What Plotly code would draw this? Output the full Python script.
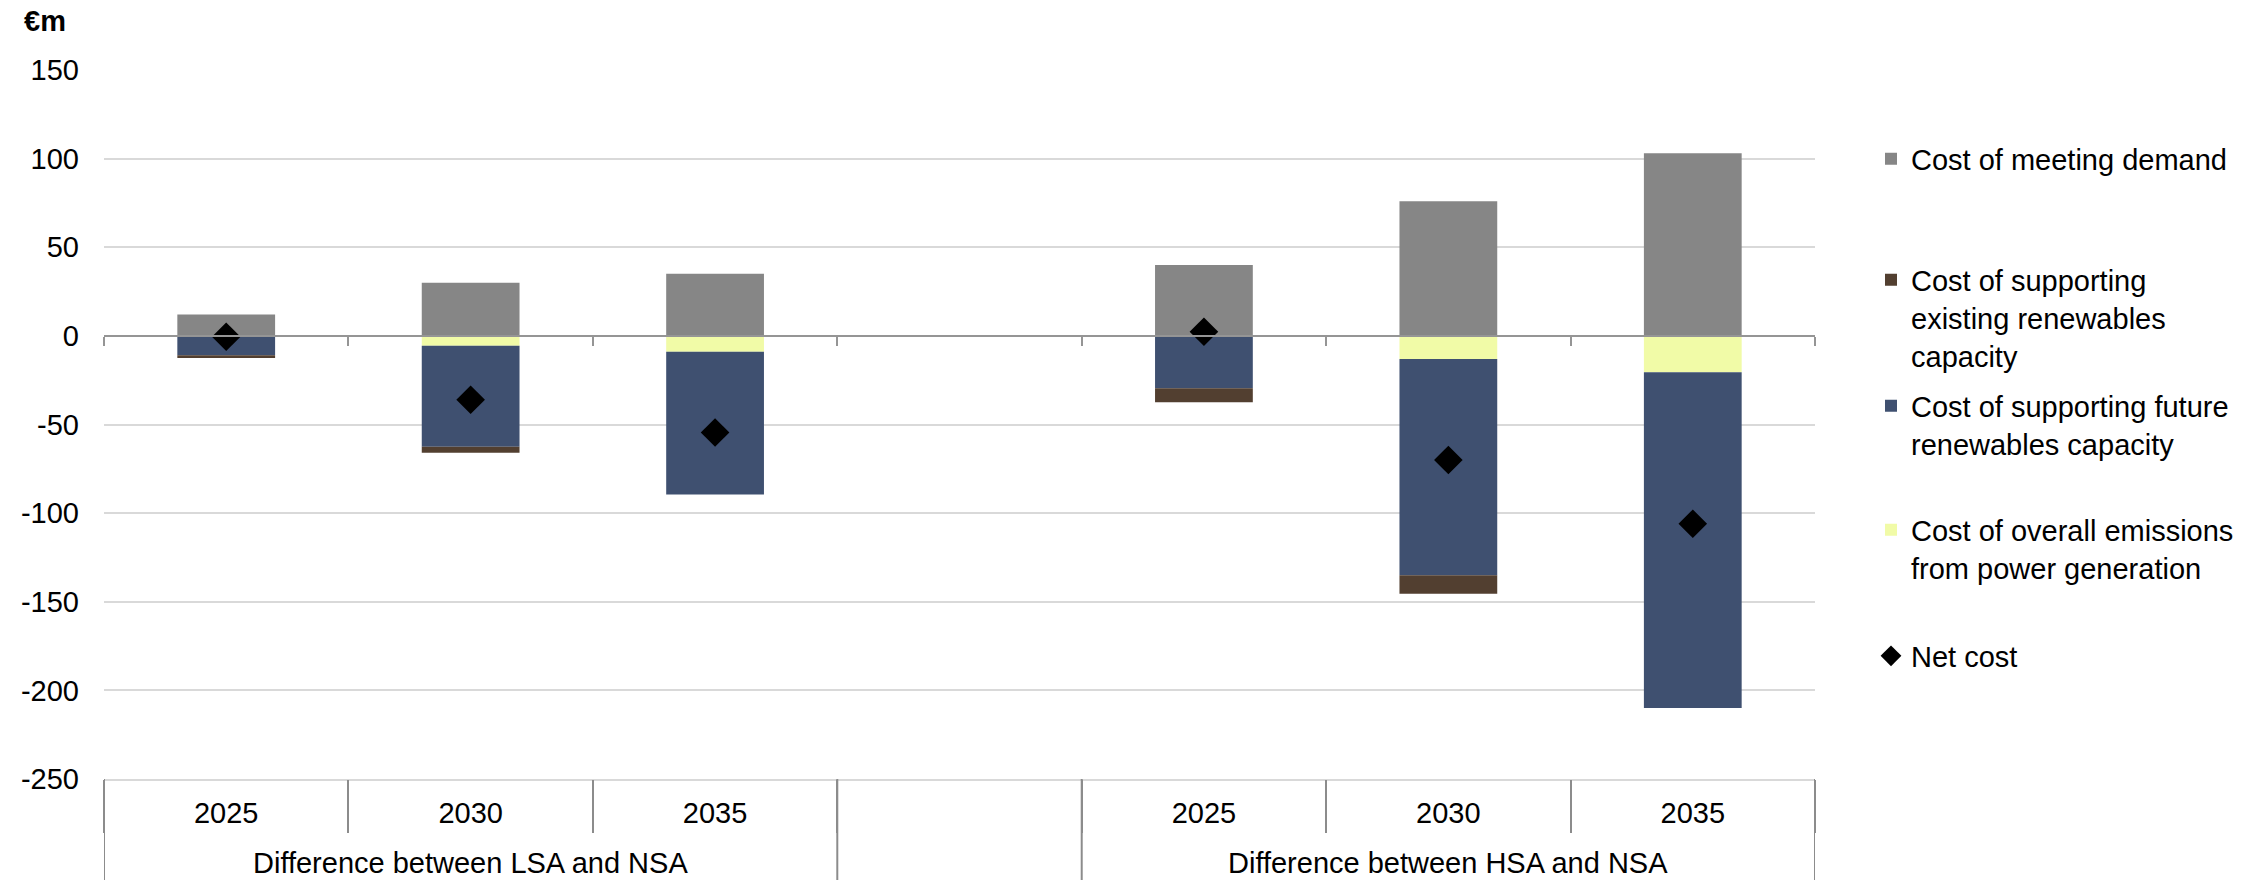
import plotly.graph_objects as go

# ---- data ----
groups = ["Difference between LSA and NSA"] * 3 + [""] + ["Difference between HSA and NSA"] * 3
years = ["2025", "2030", "2035", "", "2025", "2030", "2035"]

cost_demand = [12, 30, 35, None, 40, 76, 103]
cost_existing = [-1.5, -3.4, 0, None, -8, -10.5, 0]
cost_future = [-11, -57, -80.5, None, -29, -122, -189.5]
cost_emissions = [0, -5.6, -9, None, -0.5, -13, -20.5]
net_cost = [-0.5, -36, -54.5, None, 2.3, -70, -106]

y_ticks = [-250, -200, -150, -100, -50, 0, 50, 100, 150]
y_tick_labels = ["-250", "-200", "-150", "-100", "-50", "0", "50", "100", "150"]

names = {
    "demand": "Cost of meeting demand",
    "existing": "Cost of supporting<br>existing renewables<br>capacity",
    "future": "Cost of supporting future<br>renewables capacity",
    "emissions": "Cost of overall emissions<br>from power generation",
    "net": "Net cost",
}
colors = {
    "demand": "#868686",
    "existing": "#523F30",
    "future": "#3F5070",
    "emissions": "#F1FBA7",
}

FONT = "Liberation Sans, Arial, sans-serif"
FS = 29
W, H = 2267, 880
ML, MR, MT, MB = 104, 452, 70, 101
plot_w = W - ML - MR
plot_h = H - MT - MB
AXIS_GREY = "#8C8C8C"
GRID = "#D9D9D9"

def px_to_paper_y(py):
    return (H - MB - py) / plot_h

def px_to_paper_x(px):
    return (px - ML) / plot_w

n_cat = len(years)
xpos = list(range(n_cat))                       # category slots
boundaries = [i - 0.5 for i in range(n_cat + 1)]
y_min, y_max = min(y_ticks), max(y_ticks)

fig = go.Figure()
fig.add_trace(go.Bar(x=xpos, y=cost_demand, name=names["demand"], marker_color=colors["demand"],
                     marker_line_width=0, legend="legend"))
fig.add_trace(go.Bar(x=xpos, y=cost_emissions, name=names["emissions"], marker_color=colors["emissions"],
                     marker_line_width=0, legend="legend4"))
fig.add_trace(go.Bar(x=xpos, y=cost_future, name=names["future"], marker_color=colors["future"],
                     marker_line_width=0, legend="legend3"))
fig.add_trace(go.Bar(x=xpos, y=cost_existing, name=names["existing"], marker_color=colors["existing"],
                     marker_line_width=0, legend="legend2"))
fig.add_trace(go.Scatter(x=xpos, y=net_cost, name=names["net"], mode="markers",
                         marker=dict(symbol="diamond", size=22, color="black"), legend="legend5"))
# helper traces so the overlay axes (zero-line ticks, category separators) are drawn
fig.add_trace(go.Scatter(x=[None], y=[None], xaxis="x2", showlegend=False, hoverinfo="skip"))
fig.add_trace(go.Scatter(x=[None], y=[None], xaxis="x3", showlegend=False, hoverinfo="skip"))

# group dividers (start of each group and the end) and group labels
shapes = []
annotations = []
group_edges = [boundaries[0]]
for i in range(1, n_cat):
    if groups[i] != groups[i - 1]:
        group_edges.append(boundaries[i])
group_edges.append(boundaries[-1])
for gx in group_edges:
    shapes.append(dict(type="line", xref="x", yref="paper", x0=gx, x1=gx,
                       y0=0, y1=-MB / plot_h, line=dict(color=AXIS_GREY, width=2), layer="above"))

seen = []
for g in groups:
    if g and g not in seen:
        seen.append(g)
for g in seen:
    idx = [i for i, gg in enumerate(groups) if gg == g]
    annotations.append(dict(text=g, xref="x", yref="paper", x=sum(idx) / len(idx),
                            y=px_to_paper_y(863), xanchor="center", yanchor="middle",
                            showarrow=False, font=dict(family=FONT, size=FS, color="black")))

annotations.append(dict(text="<b>€m</b>", xref="paper", yref="paper",
                        x=px_to_paper_x(22), xanchor="left", y=px_to_paper_y(21), yanchor="middle",
                        showarrow=False, font=dict(family=FONT, size=FS, color="black")))

legend_font = dict(family=FONT, size=FS, color="black")
leg_x = px_to_paper_x(1871)
legend_centers = {"legend": 159, "legend2": 318, "legend3": 425, "legend4": 549, "legend5": 656}
legend_layout = {}
for key, cy in legend_centers.items():
    legend_layout[key] = dict(x=leg_x, xanchor="left", y=px_to_paper_y(cy), yanchor="middle",
                              font=legend_font, bgcolor="rgba(0,0,0,0)", itemwidth=30,
                              valign="top", itemclick=False, itemdoubleclick=False)

fig.update_layout(
    width=W, height=H,
    margin=dict(l=ML, r=MR, t=MT, b=MB, pad=0),
    paper_bgcolor="white", plot_bgcolor="white",
    barmode="relative", bargap=0.6,
    font=dict(family=FONT, size=FS, color="black"),
    showlegend=True,
    xaxis=dict(
        type="linear", range=[boundaries[0], boundaries[-1]], automargin=False,
        tickmode="array", tickvals=xpos, ticktext=years,
        tickfont=dict(family=FONT, size=FS, color="black"),
        ticks="", ticklabelstandoff=7,
        showline=True, linecolor=GRID, linewidth=2,
        showgrid=False, zeroline=False,
    ),
    xaxis2=dict(
        overlaying="x", anchor="free", position=(0 - y_min) / (y_max - y_min),
        type="linear", range=[boundaries[0], boundaries[-1]], automargin=False,
        tickmode="array", tickvals=boundaries, ticks="outside", ticklen=9, tickwidth=2,
        tickcolor="#959595", showticklabels=False,
        showline=True, linecolor="#959595", linewidth=2,
        showgrid=False, zeroline=False,
    ),
    xaxis3=dict(
        overlaying="x", anchor="y", side="bottom",
        type="linear", range=[boundaries[0], boundaries[-1]], automargin=False,
        tickmode="array", tickvals=boundaries, ticks="outside", ticklen=53, tickwidth=2,
        tickcolor=AXIS_GREY, showticklabels=False,
        showline=False, showgrid=False, zeroline=False,
    ),
    yaxis=dict(
        range=[y_min, y_max], tickmode="array", tickvals=y_ticks, ticktext=y_tick_labels,
        tickfont=dict(family=FONT, size=FS, color="black"), automargin=False,
        showgrid=True, gridcolor=GRID, gridwidth=2,
        zeroline=False, ticks="", ticklabelstandoff=24,
    ),
    shapes=shapes,
    annotations=annotations,
    **legend_layout,
)

fig.write_html("out.html")
